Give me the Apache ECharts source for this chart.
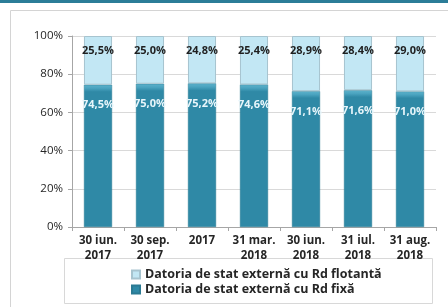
<!DOCTYPE html>
<html><head><meta charset="utf-8">
<script src="https://cdn.jsdelivr.net/npm/echarts@6/dist/echarts.min.js"></script>
<style>html,body{margin:0;padding:0;background:#fff}#c{width:448px;height:307px}</style>
</head><body><div id="c"></div>
<script>
const categories = ['30 iun.\n2017','30 sep.\n2017','2017','31 mar.\n2018','30 iun.\n2018','31 iul.\n2018','31 aug.\n2018'];
const fixed = [74.5, 75.0, 75.2, 74.6, 71.1, 71.6, 71.0];
const floating = [25.5, 25.0, 24.8, 25.4, 28.9, 28.4, 29.0];
const nameFloat = 'Datoria de stat externă cu Rd flotantă';
const nameFixed = 'Datoria de stat externă cu Rd fixă';
const yTicks = [0, 20, 40, 60, 80, 100];
const font = '"Open Sans", "Noto Sans", sans-serif';
const fmt = v => v.toFixed(1).replace('.', ',') + '%';

const chart = echarts.init(document.getElementById('c'), null, {renderer: 'canvas'});
chart.setOption({
  animation: false,
  textStyle: {fontFamily: font},
  graphic: [
    {type: 'rect', shape: {x: 0, y: 0, width: 448, height: 3}, style: {fill: '#2b7d98'}, silent: true},
    {type: 'rect', shape: {x: 10.5, y: 10.5, width: 440, height: 300}, style: {fill: 'none', stroke: '#d4d4d4', lineWidth: 1}, silent: true, z: -1},
    {type: 'rect', shape: {x: 64.5, y: 258.5, width: 368, height: 45}, style: {fill: '#fff', stroke: '#d8d8d8', lineWidth: 1}, silent: true, z: 0}
  ],
  grid: {left: 72, right: 12, top: 36, bottom: 80},
  legend: {
    data: [nameFloat, nameFixed],
    orient: 'vertical', left: 126, top: 263, itemGap: 2,
    icon: 'rect', itemWidth: 8, itemHeight: 8,
    textStyle: {fontFamily: font, fontSize: 12.5, fontWeight: 'bold', color: '#262626'},
    z: 5
  },
  xAxis: {
    type: 'category', data: categories,
    axisLine: {lineStyle: {color: '#a6a6a6'}},
    axisTick: {show: true, alignWithLabel: false, length: 4, lineStyle: {color: '#a6a6a6'}},
    axisLabel: {fontFamily: font, fontSize: 11.5, fontWeight: 'bold', color: '#262626', lineHeight: 15, margin: 6, interval: 0}
  },
  yAxis: {
    type: 'value', min: 0, max: 100, interval: 20,
    axisLine: {show: true, lineStyle: {color: '#a6a6a6'}},
    axisTick: {show: true, length: 4, lineStyle: {color: '#a6a6a6'}},
    splitLine: {lineStyle: {color: '#d9d9d9'}},
    axisLabel: {fontFamily: font, fontSize: 11.5, color: '#262626', margin: 9, formatter: v => yTicks.includes(v) ? v + '%' : ''}
  },
  series: [
    {
      name: nameFixed, type: 'bar', stack: 's', data: fixed, barWidth: '54%',
      itemStyle: {color: {type: 'linear', x: 0, y: 0, x2: 0, y2: 1, colorStops: [
        {offset: 0, color: '#5db3cc'}, {offset: 0.025, color: '#4aa3bf'}, {offset: 0.05, color: '#2f89a6'}, {offset: 1, color: '#2f89a6'}]},
        borderColor: '#2b7a93', borderWidth: 0.5},
      label: {show: true, position: 'insideTop', distance: 15, formatter: p => fmt(p.value), color: '#e8f6fb', fontWeight: 'bold', fontSize: 11, fontFamily: font}
    },
    {
      name: nameFloat, type: 'bar', stack: 's', data: floating, barWidth: '54%',
      itemStyle: {color: '#c2e7f4', borderColor: '#a7c4cf', borderWidth: 1},
      label: {show: true, position: 'insideTop', distance: 9, formatter: p => fmt(p.value), color: '#1f1f1f', fontWeight: 'bold', fontSize: 11, fontFamily: font}
    }
  ]
});
</script></body></html>
